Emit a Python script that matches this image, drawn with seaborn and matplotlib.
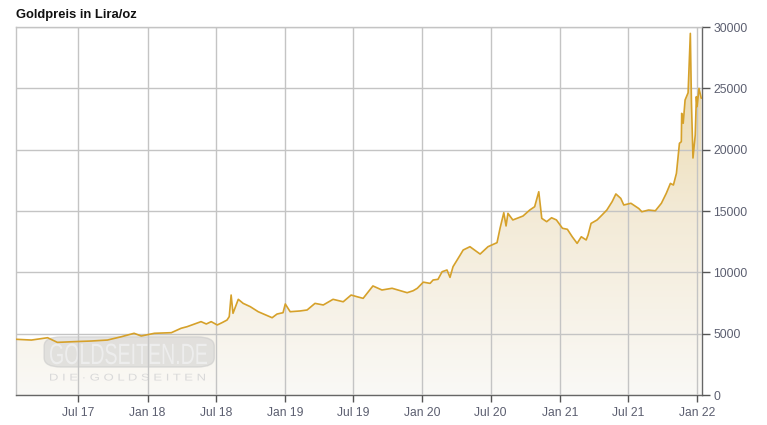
import numpy as np
import pandas as pd
import matplotlib
matplotlib.use("Agg")
import matplotlib.pyplot as plt
import matplotlib.dates as mdates
from matplotlib.colors import LinearSegmentedColormap
from matplotlib.patches import FancyBboxPatch, PathPatch
from matplotlib.textpath import TextPath
from matplotlib.font_manager import FontProperties
from matplotlib.transforms import Affine2D
import seaborn as sns

# ---- data ----
dates = [
    "2017-01-17", "2017-02-26", "2017-04-10", "2017-05-06", "2017-06-20", "2017-08-04",
    "2017-09-16", "2017-10-23", "2017-11-26", "2017-12-15", "2018-01-19", "2018-03-05",
    "2018-03-31", "2018-04-16", "2018-05-23", "2018-06-06", "2018-06-19", "2018-07-05",
    "2018-07-18", "2018-07-31", "2018-08-06", "2018-08-11", "2018-08-16", "2018-08-30",
    "2018-09-12", "2018-10-01", "2018-10-22", "2018-11-28", "2018-12-11", "2018-12-27",
    "2019-01-02", "2019-01-15", "2019-02-10", "2019-03-01", "2019-03-22", "2019-04-13",
    "2019-05-09", "2019-06-05", "2019-06-26", "2019-07-12", "2019-07-28", "2019-08-23",
    "2019-09-16", "2019-10-13", "2019-11-22", "2019-12-08", "2019-12-19", "2020-01-04",
    "2020-01-22", "2020-01-30", "2020-02-12", "2020-02-23", "2020-03-07", "2020-03-15",
    "2020-03-23", "2020-04-11", "2020-04-19", "2020-05-07", "2020-06-03", "2020-06-24",
    "2020-07-18", "2020-07-26", "2020-08-05", "2020-08-11", "2020-08-16", "2020-08-29",
    "2020-09-25", "2020-10-13", "2020-10-26", "2020-11-06", "2020-11-14", "2020-11-27",
    "2020-12-10", "2020-12-23", "2021-01-08", "2021-01-21", "2021-02-03", "2021-02-16",
    "2021-02-27", "2021-03-12", "2021-03-17", "2021-03-25", "2021-04-10", "2021-04-23",
    "2021-05-06", "2021-05-20", "2021-05-30", "2021-06-12", "2021-06-20", "2021-07-09",
    "2021-07-30", "2021-08-07", "2021-08-25", "2021-09-12", "2021-09-28", "2021-10-11",
    "2021-10-22", "2021-10-30", "2021-11-07", "2021-11-15", "2021-11-20", "2021-11-21",
    "2021-11-25", "2021-11-30", "2021-12-08", "2021-12-14", "2021-12-17", "2021-12-21",
    "2021-12-27", "2021-12-30", "2022-01-01", "2022-01-06", "2022-01-12",
]
prices = [
    4540, 4480, 4670, 4290, 4350, 4400,
    4480, 4750, 5030, 4810, 5030, 5080,
    5440, 5570, 5980, 5790, 5980, 5710,
    5900, 6110, 6390, 8150, 6660, 7800,
    7470, 7200, 6790, 6300, 6600, 6710,
    7420, 6790, 6850, 6930, 7470, 7340,
    7800, 7600, 8150, 8010, 7880, 8890,
    8560, 8700, 8340, 8500, 8700, 9200,
    9100, 9375, 9430, 10050, 10190, 9590,
    10460, 11410, 11820, 12090, 11490, 12090,
    12420, 13590, 14860, 13780, 14810, 14270,
    14590, 15080, 15350, 16570, 14400, 14130,
    14450, 14270, 13590, 13510, 12900, 12360,
    12900, 12640, 13040, 13990, 14270, 14670,
    15080, 15760, 16390, 16030, 15490, 15630,
    15200, 14940, 15080, 15020, 15630, 16440,
    17250, 17120, 18070, 20520, 20650, 22960,
    22150, 24050, 24640, 29480, 23780, 19320,
    21200, 24320, 23510, 25000, 24190,
]
y_ticks = [0, 5000, 10000, 15000, 20000, 25000, 30000]
x_start, x_end = "2017-01-16", "2022-01-14"
title = "Goldpreis in Lira/oz"
watermark = "GOLDSEITEN.DE"
watermark_sub = "DIE·GOLDSEITEN"

# ---- style ----
sns.set_style("white")
plt.rcParams['font.family'] = ['Liberation Sans', 'DejaVu Sans']

df = pd.DataFrame({"date": pd.to_datetime(dates), "price": prices})
x0, x1 = pd.Timestamp(x_start), pd.Timestamp(x_end)

W, H = 767, 425
fig = plt.figure(figsize=(W / 100, H / 100), dpi=100)
ax = fig.add_axes([16 / W, 1 - 395 / H, (702 - 16) / W, (395 - 27) / H])

# gradient area fill
fill = ax.fill_between(df["date"], df["price"], 0, color="none", lw=0)
cmap = LinearSegmentedColormap.from_list("gold", ["#faf9f6", "#f3ead6", "#ead6a2"])
grad = np.linspace(0, 1, 256).reshape(-1, 1)
im = ax.imshow(grad, cmap=cmap, aspect="auto", origin="lower",
               extent=[mdates.date2num(x0), mdates.date2num(x1), 0, 30000], zorder=1)
im.set_clip_path(fill.get_paths()[0], transform=ax.transData)

sns.lineplot(data=df, x="date", y="price", ax=ax, color="#d6a12a", lw=1.2, zorder=3)

ax.set_xlim(x0, x1)
ax.set_ylim(0, 30000)
ax.set_xlabel("")
ax.set_ylabel("")

ax.set_axisbelow(False)
ax.grid(True, color="#c4c4c4", lw=1)

ax.yaxis.tick_right()
ax.set_yticks(y_ticks)
ax.set_yticklabels([str(v) for v in y_ticks])
ax.xaxis.set_major_locator(mdates.MonthLocator(bymonth=[1, 7]))
ax.xaxis.set_major_formatter(mdates.DateFormatter("%b %y"))
lab_col = "#5c5f70"
ax.tick_params(axis="y", which="major", right=True, left=False, direction="out",
               length=6, width=1, color="#555555", labelcolor=lab_col,
               labelsize=8.7, pad=2)
ax.tick_params(axis="x", which="major", bottom=True, direction="out",
               length=5, width=1, color="#555555", labelcolor=lab_col,
               labelsize=8.7, pad=4)

for side in ["left", "top"]:
    ax.spines[side].set_color("#c4c4c4")
    ax.spines[side].set_linewidth(1)
for side in ["bottom", "right"]:
    ax.spines[side].set_color("#666666")
    ax.spines[side].set_linewidth(1)

# watermark box
box = FancyBboxPatch((0.041, 0.076), 0.248, 0.082, transform=ax.transAxes,
                     boxstyle="round,pad=0,rounding_size=0.025",
                     facecolor="#cfcfcf", edgecolor="#c8c8c8", lw=1, alpha=0.55, zorder=2)
ax.add_patch(box)


def fitted_text(s, x0px, x1px, base_px, cap_px, color, alpha, weight="normal"):
    """Real text converted to a path and scaled to fit a pixel box."""
    tp = TextPath((0, 0), s, size=100,
                  prop=FontProperties(family="Liberation Sans", weight=weight))
    bb = tp.get_extents()
    sx = (x1px - x0px) / bb.width
    sy = cap_px / 71.6
    tr = Affine2D().translate(-bb.x0, 0).scale(sx, sy).translate(x0px, H - base_px)
    patch = PathPatch(tp, transform=tr, facecolor=color, edgecolor="none",
                      alpha=alpha, zorder=2.2)
    ax.add_artist(patch)


fitted_text(watermark, 50, 207, 364, 21, "#eeeeee", 0.95)
fitted_text(" ".join(watermark_sub), 50, 205, 380.5, 7, "#d9d9d9", 1.0)

fig.text(16 / W, 1 - 15 / H, title, ha="left", va="center",
         fontsize=9.4, fontweight="bold", color="#111111")

fig.savefig("out.png", dpi=100)
